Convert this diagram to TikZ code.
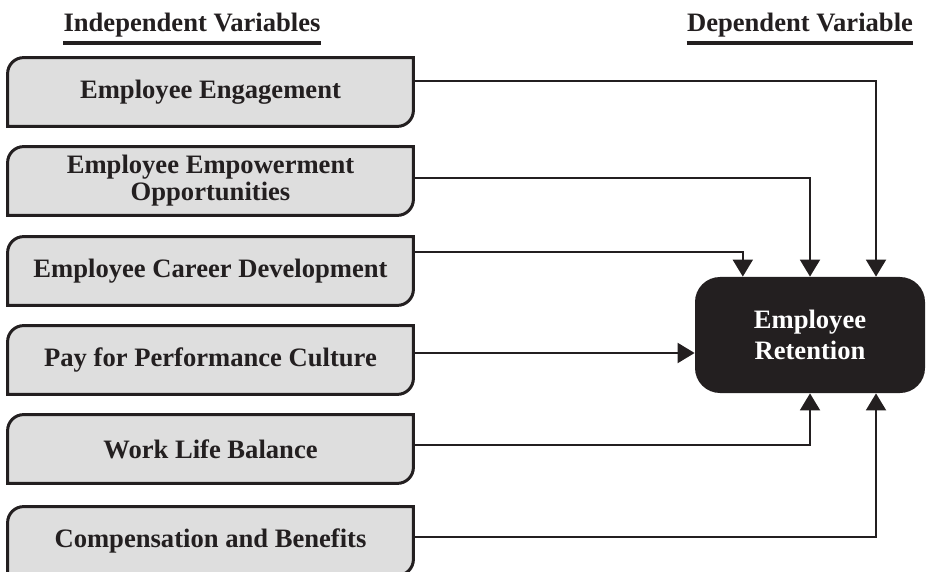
\documentclass[tikz,border=0pt]{standalone}
\usepackage{fontspec}
\setmainfont{Liberation Serif}
\usetikzlibrary{arrows.meta,backgrounds}
\definecolor{ink}{RGB}{35,31,32}
\definecolor{boxgray}{RGB}{222,222,222}

\begin{document}
\begin{tikzpicture}[x=0.5pt,y=-0.5pt,
	every node/.style={font=\bfseries\fontsize{13.3}{15.5}\selectfont, text=ink},
	ivbox/.style={minimum width=202.5pt, minimum height=34pt, inner sep=0pt, align=center},
	leaf/.style={fill=boxgray, draw=ink, line width=1.5pt},
	link/.style={draw=ink, line width=1pt, -{Triangle[length=8.5pt,width=10pt]}},
	uline/.style={draw=ink, line width=2pt}]

\useasboundingbox (0,0) rectangle (926,572);

\node[anchor=base, inner sep=0pt](iv) at(192,31.7) {Independent Variables};
\node[anchor=base, inner sep=0pt](dv) at(800,31.7) {Dependent Variable};
\draw[uline] ([yshift=-5.8pt]iv.base west) -- ([yshift=-5.8pt]iv.base east);
\draw[uline] ([yshift=-5.8pt]dv.base west) -- ([yshift=-5.8pt]dv.base east);

\foreach \y/\lbl [count=\i] in {
	92/{Employee Engagement},
	181/{Employee Empowerment\\[-2pt]Opportunities},
	271/{Employee Career Development},
	360/{Pay for Performance Culture},
	449/{Work Life Balance},
	541/{Compensation and Benefits}%
}{
	\node[ivbox](\i) at(210.5,\y) {\lbl};
}

\begin{scope}[on background layer]
\foreach \i in {1,...,6}{
	\draw[leaf] (\i.south west) -- ([yshift=-8pt]\i.north west)
		arc[start angle=180, end angle=90, radius=8pt] -- (\i.north east)
		-- ([yshift=8pt]\i.south east)
		arc[start angle=0, end angle=-90, radius=8pt] -- cycle;
}
\end{scope}

\node[fill=ink, rounded corners=12.5pt, minimum width=115pt, minimum height=58pt,
	text=white, align=center](ret) at(810,335) {Employee\\Retention};

\foreach \u/\dy/\dx/\side in {
	1/5.65/33/north,
	2/1.65/0/north,
	3/9.65/-33.6/north,
	5/2/0/south,
	6/2/33/south%
}{
	\draw[link] ([yshift=\dy pt]\u.east) -| ([xshift=\dx pt]ret.\side);
}
\draw[link] ([yshift=3.5pt]4.east) -- ([yshift=3.5pt]4.east -| ret.west);

\end{tikzpicture}
\end{document}
